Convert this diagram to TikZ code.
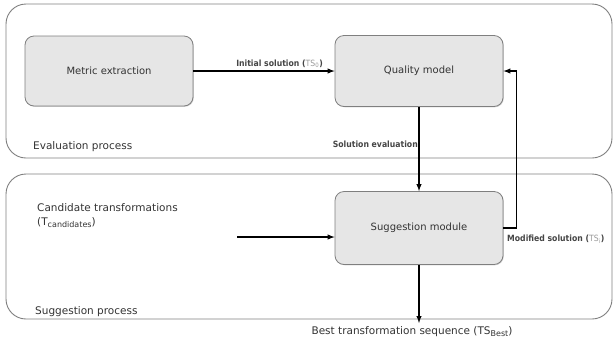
\documentclass[tikz,border=0pt]{standalone}
\usepackage{fontspec}
\setmainfont{DejaVu Sans}
\newfontfamily\lblfont{DejaVu Sans Condensed}
\usepackage{tikz}
\usetikzlibrary{arrows,positioning,shadows}
\definecolor{boxfill}{HTML}{E6E6E6}
\definecolor{boxline}{HTML}{7F7F7F}
\definecolor{txtgray}{HTML}{333333}
\definecolor{lblgray}{HTML}{454545}
\definecolor{subgray}{HTML}{9A9A9A}
\newcommand{\lowsub}[1]{\raisebox{-0.45ex}{\fontsize{8}{9}\selectfont #1}}

\begin{document}
\begin{tikzpicture}[x=1pt,y=-1pt,>=latex]
\tikzstyle{process}=[rectangle,rounded corners=20pt,draw=boxline,line width=0.9pt,
inner sep=0pt,outer sep=0pt]
\tikzstyle{module}=[rectangle,rounded corners=9pt,draw=boxline,fill=boxfill,
thick,minimum width=168pt,text=txtgray,font=\fontsize{10}{12}\selectfont,
drop shadow={shadow xshift=0.8pt,shadow yshift=-0.8pt,opacity=0.35}]
\tikzstyle{bigtext}=[text=txtgray,font=\fontsize{10.5}{12}\selectfont,inner sep=0pt]
\tikzstyle{lbl}=[text=lblgray,font=\lblfont\bfseries\fontsize{8.6}{10}\selectfont,inner sep=1pt]
\tikzstyle{conn}=[->,line width=1.4pt,black]

\useasboundingbox (0,0) rectangle (615,349);

% the two process frames
\node[process,minimum width=606pt,minimum height=154pt] at (309,81) (evalproc) {};
\node[process,minimum width=606pt,minimum height=145pt] at (309,246.5) (suggproc) {};
\node[bigtext,anchor=west] at (33,147) (evallbl) {Evaluation process};
\node[bigtext,anchor=west] at (35,312) (sugglbl) {Suggestion process};

% modules
\node[module,minimum height=70pt] at (109,71) (metric) {Metric extraction};
\node[module,minimum height=71pt] at (419,71) (quality) {Quality model};
\node[module,minimum height=73pt] at (419,228) (suggest) {Suggestion module};

\node[bigtext,anchor=north west,align=left] at (37,203) (cand)
{Candidate transformations\\[2pt](T\lowsub{candidates})};
\coordinate (candend) at (237,237);
\coordinate (bestend) at (419,323);
\node[bigtext,anchor=north] at (412,326) (best)
{Best transformation sequence (TS\lowsub{Best})};

% connectors
\draw[conn] (metric) -- (quality);
\draw[conn] (quality) -- (suggest);
\draw[conn] (candend) -- (candend -| suggest.west);
\draw[conn] (suggest.south) -- (bestend);
\draw[conn] (suggest.east) -- ++(13,0) |- (quality.east);

% arrow labels
\node[lbl,anchor=south east] at (324,69) (initlbl)
{Initial solution ({\mdseries\color{subgray}TS\textsubscript{0}})};
\node[lbl,anchor=east] at (419,144) (evallbl2) {Solution evaluation};
\node[lbl,anchor=west] at (506,239) (modlbl)
{Modified solution ({\mdseries\color{subgray}TS\textsubscript{i}})};

\end{tikzpicture}
\end{document}
